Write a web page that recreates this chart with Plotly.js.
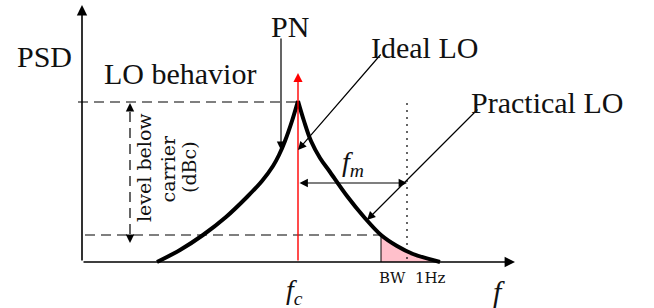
<!DOCTYPE html>
<html>
<head>
<meta charset="utf-8">
<script src="https://cdn.plot.ly/plotly-3.0.1.min.js"></script>
<style>html,body{margin:0;padding:0;background:#fff;}#chart{width:654px;height:308px;}</style>
</head>
<body>
<div id="chart"></div>
<script>
// Schematic values (frequency axis units, PSD level units), origin at axes intersection
const fc = 216;            // carrier frequency position
const peakLevel = 161;     // carrier level
const noiseLevel = 27;     // level at offset fm (1 Hz BW)
const fmOffset = 325;      // fc + fm position
const bwStart = 299;       // start of 1 Hz BW strip

const leftX  = [75, 98, 121, 144, 165, 180, 191, 197, 203, 210, 216];
const leftY  = [0, 12, 27, 45, 65, 81, 96, 107, 121, 141, 161];
const rightX = [216, 222, 229, 238, 248, 265, 282, 299, 315, 331, 358];
const rightY = [161, 141, 121, 104, 90, 66, 45, 27, 16, 8, 0];

const xAxisEnd = 433;
const yAxisEnd = 257;
const redArrowTop = 189;

const labels = {
  psd: 'PSD', behavior: 'LO behavior', pn: 'PN', ideal: 'Ideal LO',
  practical: 'Practical LO', bw: 'BW  1Hz'
};
const levelLines = ['level below', 'carrier', '(dBc)'];

const serif = 'Liberation Serif, Times New Roman, serif';
const small = 'DejaVu Serif, serif';

const pinkX = [bwStart, bwStart].concat(rightX.slice(7));
const pinkY = [0, noiseLevel].concat(rightY.slice(7));

const traces = [
  {x: pinkX, y: pinkY, mode: 'lines', fill: 'toself', fillcolor: '#ffc0cb',
   line: {width: 0, color: '#ffc0cb'}},
  {x: leftX, y: leftY, mode: 'lines', line: {color: '#000', width: 4, shape: 'spline', smoothing: 1}},
  {x: rightX, y: rightY, mode: 'lines', line: {color: '#000', width: 4, shape: 'spline', smoothing: 1}}
];

function arrow(x, y, ax, ay, opts) {
  return Object.assign({x: x, y: y, ax: ax, ay: ay, xref: 'x', yref: 'y', axref: 'x', ayref: 'y',
    text: '', showarrow: true, arrowhead: 2, arrowsize: 1.4, arrowwidth: 1.2, arrowcolor: '#000',
    standoff: 0, startstandoff: 0}, opts || {});
}
function label(x, y, text, size, font, opts) {
  return Object.assign({x: x, y: y, xref: 'x', yref: 'y', text: text, showarrow: false,
    xanchor: 'center', yanchor: 'middle', font: {family: font, size: size, color: '#111'}}, opts || {});
}

const annotations = [
  // axes
  arrow(0, yAxisEnd, 0, 0, {arrowwidth: 1.6, arrowsize: 1.3}),
  arrow(xAxisEnd, 0, 0, 0, {arrowwidth: 1.6, arrowsize: 1.3}),
  // carrier (ideal LO)
  arrow(fc, redArrowTop, fc, 0, {arrowcolor: '#ff0000', arrowwidth: 1.4, arrowsize: 1.3}),
  // fm double arrow
  arrow(fmOffset, 79, fc, 79, {arrowside: 'end+start'}),
  // level arrowheads
  arrow(48, 159, 48, 150),
  arrow(48, 19, 48, 28),
  // pointers
  arrow(199, 112, 199, 225),
  arrow(fc, 112, 300, 209),
  arrow(285, 42, 397, 154),
  // labels
  label(-38, 206, labels.psd, 30, serif),
  label(98, 189, labels.behavior, 30, serif),
  label(208, 236, labels.pn, 30, serif),
  label(342, 215, labels.ideal, 30, serif),
  label(465, 160, labels.practical, 30, serif),
  label(271, 99, '<i>f</i><sub><i>m</i></sub>', 28, serif),
  label(212, -29, '<i>f</i><sub><i>c</i></sub>', 28, serif),
  label(417, -29, '<i>f</i>', 30, serif),
  label(330, -16, labels.bw, 15, small),
  label(62, 94, levelLines[0], 19, small, {textangle: -90}),
  label(85.5, 93, levelLines[1], 19, small, {textangle: -90}),
  label(107, 95, levelLines[2], 19, small, {textangle: -90})
];

const shapes = [
  {type: 'line', x0: -4, x1: fc, y0: 160, y1: 160, line: {color: '#000', width: 1.2, dash: '10px,6px'}},
  {type: 'line', x0: 3, x1: bwStart, y0: noiseLevel, y1: noiseLevel, line: {color: '#000', width: 1.2, dash: '10px,6px'}},
  {type: 'line', x0: 48, x1: 48, y0: 150, y1: 28, line: {color: '#000', width: 1.2, dash: '10px,6px'}},
  {type: 'line', x0: fmOffset, x1: fmOffset, y0: 159, y1: 0, line: {color: '#000', width: 1.2, dash: '2px,5px'}},
  {type: 'line', x0: bwStart, x1: bwStart, y0: 0, y1: noiseLevel, line: {color: '#000', width: 1}}
];

const layout = {
  width: 654, height: 308, margin: {l: 0, r: 0, t: 0, b: 0},
  paper_bgcolor: '#fff', plot_bgcolor: '#fff', showlegend: false, hovermode: false,
  xaxis: {range: [-82, 572], visible: false, fixedrange: true},
  yaxis: {range: [-46, 262], visible: false, fixedrange: true},
  annotations: annotations, shapes: shapes
};

Plotly.newPlot('chart', traces, layout, {staticPlot: true, displayModeBar: false});
</script>
</body>
</html>
